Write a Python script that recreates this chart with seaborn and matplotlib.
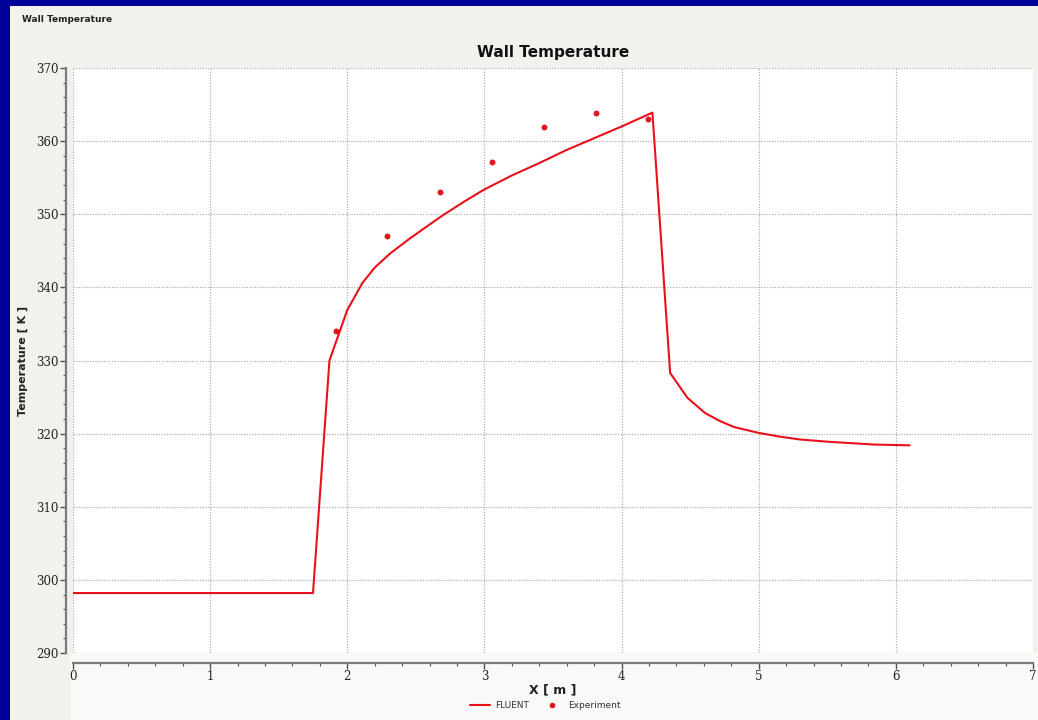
import matplotlib
matplotlib.use("Agg")
import matplotlib.pyplot as plt
import seaborn as sns
import pandas as pd
from matplotlib.ticker import AutoMinorLocator
from matplotlib.lines import Line2D

# FLUENT simulation (wall temperature along x)
fluent_x = [0.0, 0.5, 1.0, 1.5, 1.75, 1.87, 2.0, 2.11, 2.2, 2.31, 2.45, 2.57, 2.70, 2.85,
            3.0, 3.2, 3.4, 3.6, 3.8, 4.0, 4.225, 4.354, 4.48, 4.61, 4.72, 4.82, 5.0, 5.15,
            5.3, 5.5, 5.67, 5.85, 6.1]
fluent_y = [298.2, 298.2, 298.2, 298.2, 298.2, 330.0, 336.9, 340.6, 342.7, 344.6, 346.6, 348.2,
            349.9, 351.7, 353.4, 355.3, 357.0, 358.8, 360.4, 362.0, 363.9, 328.3, 324.9, 322.8,
            321.7, 320.9, 320.1, 319.6, 319.2, 318.9, 318.7, 318.5, 318.4]

# Experimental measurements
exp_x = [1.916, 2.293, 2.677, 3.054, 3.433, 3.81, 4.194]
exp_y = [334.1, 347.0, 353.0, 357.1, 362.0, 363.9, 363.0]

x_ticks = [0, 1, 2, 3, 4, 5, 6, 7]
y_ticks = [290, 300, 310, 320, 330, 340, 350, 360, 370]

sns.set_style("white")
plt.rcParams['font.family'] = ['DejaVu Sans']

BLUE = "#000099"
PANEL = "#f3f1ec"
LOWER = "#f9f9f8"
RED = "#e8101a"

fig = plt.figure(figsize=(10.38, 7.2), dpi=100, facecolor=BLUE)
# light panel
panel = fig.add_axes([10/1038, 0, 1 - 10/1038, 1 - 6/720])
panel.set_facecolor(PANEL)
panel.set_xticks([]); panel.set_yticks([])
for s in panel.spines.values():
    s.set_visible(False)
panel.set_zorder(0)
panel.set_ylim(0, 1); panel.set_xlim(0, 1)
# lighter lower strip below plot area
panel.axhspan(0, 67/714, xmin=(70-10)/1028, xmax=1, color=LOWER, lw=0)

ax = fig.add_axes([73/1038, 1 - 653/720, (1033 - 73)/1038, (653 - 68)/720])
ax.set_zorder(1)
ax.set_facecolor("white")

df_f = pd.DataFrame({"x": fluent_x, "y": fluent_y})
df_e = pd.DataFrame({"x": exp_x, "y": exp_y})
sns.lineplot(data=df_f, x="x", y="y", ax=ax, color=RED, linewidth=1.5, sort=False,
             estimator=None, zorder=3)
sns.scatterplot(data=df_e, x="x", y="y", ax=ax, color=RED, s=14, edgecolor=RED,
                linewidth=0.5, zorder=4)

ax.set_xlim(0, 7)
ax.set_ylim(290, 370)
ax.set_xticks(x_ticks)
ax.set_yticks(y_ticks)
ax.xaxis.set_minor_locator(AutoMinorLocator(5))
ax.yaxis.set_minor_locator(AutoMinorLocator(5))
ax.grid(True, which="major", color="#b0b0b0", linestyle=(0, (1, 1.2)), linewidth=0.9)

for side in ["top", "right"]:
    ax.spines[side].set_visible(False)
ax.spines["left"].set_position(("outward", 5))
ax.spines["bottom"].set_position(("outward", 7))
for side in ["left", "bottom"]:
    ax.spines[side].set_color("#7a7a7a")
    ax.spines[side].set_linewidth(1.6)

ax.tick_params(axis="both", which="both", bottom=True, left=True, top=False, right=False)
ax.tick_params(axis="both", which="major", direction="out", length=4, width=1,
               color="#505050", labelsize=8.5, labelcolor="#222222", pad=1.5)
ax.tick_params(axis="both", which="minor", direction="out", length=2.5, width=0.8,
               color="#505050")
for lab in ax.get_xticklabels() + ax.get_yticklabels():
    lab.set_family("DejaVu Serif")

ax.set_xlabel("X [ m ]", fontsize=9, fontweight="bold", color="#222222", labelpad=0)
ax.set_ylabel("Temperature [ K ]", fontsize=8, fontweight="bold", color="#222222", labelpad=6)
ax.set_title("Wall Temperature", fontsize=11, fontweight="bold", color="#111111", pad=8)

fig.text(22/1038, 1 - 20/720, "Wall Temperature", fontsize=6.5, fontweight="bold",
         color="#222222", va="center", ha="left")

handles = [Line2D([0], [0], color=RED, lw=1.5),
           Line2D([0], [0], color=RED, lw=0, marker="o", markersize=3)]
fig.legend(handles, ["FLUENT", "Experiment"], loc="center", bbox_to_anchor=(545/1038, 1 - 706/720),
           ncol=2, frameon=False, fontsize=6.5, handlelength=2.2, columnspacing=1.5,
           handletextpad=0.6, labelcolor="#333333")

fig.savefig("out.png", dpi=100, facecolor=BLUE)
